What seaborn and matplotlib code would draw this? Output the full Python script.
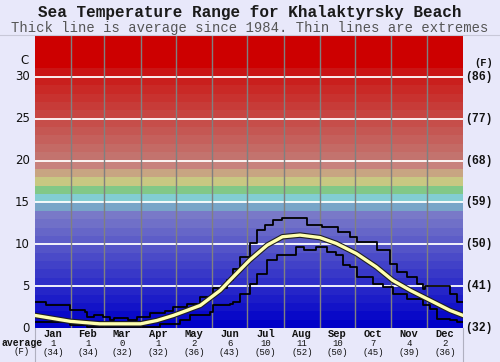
import matplotlib
matplotlib.use("Agg")
import matplotlib.pyplot as plt
import matplotlib.patheffects as pe
import seaborn as sns
import pandas as pd

# ---- data ----
months = ["Jan", "Feb", "Mar", "Apr", "May", "Jun", "Jul", "Aug", "Sep", "Oct", "Nov", "Dec"]
month_days = [31, 28, 31, 30, 31, 30, 31, 31, 30, 31, 30, 31]
avg_c = [1, 1, 0, 1, 2, 6, 10, 11, 10, 7, 4, 2]
avg_f = [34, 34, 32, 32, 36, 43, 50, 52, 50, 45, 39, 36]

avg_day = [0, 30, 55, 90, 104, 118, 141, 158, 169, 183, 198, 211, 226, 243, 257,
           274, 291, 305, 320, 337, 354, 365]
avg_temp = [1.5, 0.8, 0.5, 0.5, 0.9, 1.5, 2.7, 4.5, 6.1, 8.1, 9.9, 10.9, 11.1, 10.8, 10.1,
            8.9, 7.3, 5.7, 4.5, 3.3, 2.1, 1.5]

max_day = [0, 9, 30, 43, 44, 50, 58, 64, 67, 79, 87, 98, 111, 118, 130, 141, 152, 164, 169,
           175, 183, 189, 196, 203, 211, 232, 245, 258, 269, 275, 292, 303, 309, 317, 326,
           331, 333, 345, 354, 360, 365]
max_temp = [3.1, 2.7, 2.1, 1.9, 1.3, 1.5, 1.3, 0.9, 1.2, 0.9, 1.3, 1.8, 2.0, 2.5, 2.9, 3.7,
            4.8, 5.7, 7.1, 8.5, 10.1, 11.7, 12.3, 12.9, 13.1, 12.3, 12.1, 11.5, 10.9, 10.3,
            9.3, 7.7, 6.7, 6.1, 5.3, 4.7, 5.0, 5.0, 4.1, 3.1, 3.1]

min_day = [0, 30, 44, 55, 100, 107, 118, 124, 132, 141, 149, 152, 166, 169, 175, 183, 189,
           198, 206, 223, 229, 240, 249, 257, 263, 269, 275, 288, 297, 305, 317, 331, 337,
           343, 354, 360, 365]
min_temp = [0.7, 0.3, 0.1, 0.1, 0.1, 0.5, 0.5, 1.0, 1.5, 1.5, 1.9, 2.7, 2.9, 3.1, 4.1, 5.3,
            6.5, 8.1, 8.7, 9.7, 9.3, 9.7, 9.1, 8.7, 7.5, 7.3, 6.1, 5.3, 4.9, 4.1, 3.5, 2.7,
            2.3, 1.1, 0.9, 0.7, 0.7]

c_ticks = [0, 5, 10, 15, 20, 25, 30]
f_ticks = [32, 41, 50, 59, 68, 77, 86]

# one colour per 1 degree band, 0..35 C
band_colors = ["#0000c8", "#0909c8", "#1313c8", "#1c1cc8", "#2525c8", "#2f2fc8", "#3838c8",
               "#4141c8", "#4a4ac8", "#5454c8", "#5d5dc8", "#6666c8", "#7070c8", "#7979c8",
               "#78a5c8", "#82cdd2", "#82c887", "#c8c882", "#c8a582", "#c8827d", "#c3736e",
               "#c46a65", "#c5605c", "#c55753", "#c64e4a", "#c74541", "#c73b38", "#c8322f",
               "#c92926", "#c91f1d", "#ca1414", "#cd0000", "#cd0000", "#cd0000", "#cd0000"]

BG = "#e8e8fa"
MONO = "Liberation Mono"

fig = plt.figure(figsize=(5, 3.62), dpi=100, facecolor=BG)
ax = fig.add_axes([0.07, 0.0939, 0.856, 0.8094])
ax.set_xlim(0, 365)
ax.set_ylim(0, 35)

for k, col in enumerate(band_colors):
    ax.axhspan(k, k + 1, color=col, lw=0, zorder=0)
for t in c_ticks[1:]:
    ax.axhline(t, color="white", lw=1.3, zorder=1)

edges = pd.Series(month_days).cumsum()
for e in edges[:-1]:
    ax.axvline(e, color="#808080", lw=1, zorder=1)

mx = pd.DataFrame({"day": max_day, "temp": max_temp})
mn = pd.DataFrame({"day": min_day, "temp": min_temp})
av = pd.DataFrame({"day": avg_day, "temp": avg_temp})
sns.lineplot(data=mx, x="day", y="temp", ax=ax, color="black", lw=1.3,
             drawstyle="steps-post", estimator=None, zorder=3)
sns.lineplot(data=mn, x="day", y="temp", ax=ax, color="black", lw=1.3,
             drawstyle="steps-post", estimator=None, zorder=3)
sns.lineplot(data=av, x="day", y="temp", ax=ax, color="#ffffb0", lw=2.4, estimator=None,
             zorder=4, path_effects=[pe.Stroke(linewidth=4, foreground="#202020"), pe.Normal()])

for s in ax.spines.values():
    s.set_visible(False)
ax.set_xticks([])
ax.set_yticks([])
ax.set_xlabel("")
ax.set_ylabel("")

# axis labels
for c, f in zip(c_ticks, f_ticks):
    ax.text(-4.5, c, str(c), ha="right", va="center", fontsize=8.5, color="#111111",
            family="DejaVu Sans", clip_on=False)
    ax.text(367, c, f"({f})", ha="left", va="center", fontsize=8.3, color="#111111",
            family=MONO, weight="bold", clip_on=False)
ax.text(-9, 32, "C", ha="center", va="center", fontsize=8.5, color="#111111",
        family="DejaVu Sans", clip_on=False)
ax.text(375, 31.7, "(F)", ha="left", va="center", fontsize=7.5, color="#111111",
        family=MONO, weight="bold", clip_on=False)

starts = [0] + list(edges[:-1])
for m, s, d, a, f in zip(months, starts, month_days, avg_c, avg_f):
    mid = s + d / 2
    ax.text(mid, -0.7, m, ha="center", va="center", fontsize=7.5, family=MONO,
            weight="bold", color="#111111", clip_on=False)
    ax.text(mid, -1.8, str(a), ha="center", va="center", fontsize=6.5, family=MONO,
            color="#111111", clip_on=False)
    ax.text(mid, -2.9, f"({f})", ha="center", va="center", fontsize=6.5, family=MONO,
            color="#111111", clip_on=False)
fig.text(0.003, 1 - 343 / 362, "average", ha="left", va="center", fontsize=7, family=MONO,
         weight="bold", color="#111111")
fig.text(0.044, 1 - 352 / 362, "(F)", ha="center", va="center", fontsize=6.5, family=MONO,
         color="#111111")

# frame lines
fig.add_artist(plt.Line2D([0, 1], [0.9033, 0.9033], color="#c8c8d8", lw=0.8))
fig.add_artist(plt.Line2D([0.07, 0.07], [0, 0.0939], color="#b0b0c0", lw=0.8))
fig.add_artist(plt.Line2D([0.926, 0.926], [0, 0.0939], color="#b0b0c0", lw=0.8))

fig.text(0.5, 1 - 12 / 362, "Sea Temperature Range for Khalaktyrsky Beach", ha="center",
         va="center", fontsize=11.5, family=MONO, weight="bold", color="#1a1a1a")
fig.text(0.5, 1 - 28 / 362, "Thick line is average since 1984. Thin lines are extremes",
         ha="center", va="center", fontsize=10, family=MONO, color="#555555")

fig.savefig("out.png", dpi=100, facecolor=BG)
